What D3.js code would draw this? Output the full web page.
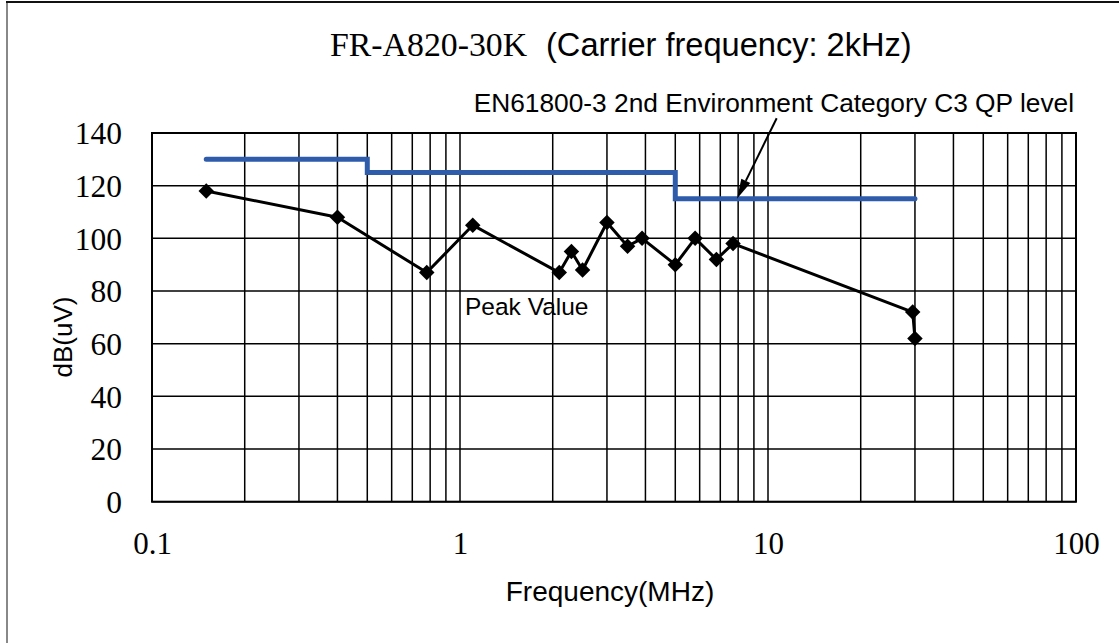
<!DOCTYPE html>
<html>
<head>
<meta charset="utf-8">
<script src="https://cdn.jsdelivr.net/npm/d3@7"></script>
<style>
  html, body { margin: 0; padding: 0; background: #fff; }
  svg { display: block; }
</style>
</head>
<body>
<script>
// ---- data ----
const peakFreq = [0.15, 0.4, 0.78, 1.1, 2.1, 2.3, 2.5, 3.0, 3.5, 3.9, 5.0, 5.8, 6.8, 7.7, 29.5, 30];
const peakLevel = [118, 108, 87, 105, 87, 95, 88, 106, 97, 100, 90, 100, 92, 98, 72, 62];
const limitFreq = [0.15, 0.5, 0.5, 5, 5, 30];
const limitLevel = [130, 130, 125, 125, 115, 115];
const xTickValues = [0.1, 1, 10, 100];
const xTickLabels = ["0.1", "1", "10", "100"];
const yTickValues = [0, 20, 40, 60, 80, 100, 120, 140];
const titleMain = "FR-A820-30K";
const titleSub = "(Carrier frequency: 2kHz)";
const limitLabel = "EN61800-3 2nd Environment Category C3 QP level";
const peakLabel = "Peak Value";
const xTitle = "Frequency(MHz)";
const yTitle = "dB(uV)";

// ---- layout ----
const W = 1119, H = 643;
const L = 152, R = 1076, T = 133, B = 501.7;

const svg = d3.select("body").append("svg").attr("width", W).attr("height", H);

// outer frame (left + top)
svg.append("line").attr("x1", 7).attr("x2", 7).attr("y1", 2).attr("y2", H)
  .attr("stroke", "#888").attr("stroke-width", 2);
svg.append("line").attr("x1", 6).attr("x2", W).attr("y1", 2).attr("y2", 2)
  .attr("stroke", "#111").attr("stroke-width", 2);

const x = d3.scaleLog().domain([0.1, 100]).range([L, R]);
const y = d3.scaleLinear().domain([0, 140]).range([B, T]);

// grid: vertical at every 1..9 x decade
const vGrid = [];
[0.1, 1, 10].forEach(dec => { for (let k = 1; k <= 9; k++) vGrid.push(dec * k); });
vGrid.push(100);
svg.append("g").selectAll("line").data(vGrid).join("line")
  .attr("x1", d => x(d)).attr("x2", d => x(d))
  .attr("y1", T).attr("y2", B)
  .attr("stroke", "#000").attr("stroke-width", 1.5);
svg.append("g").selectAll("line").data(yTickValues).join("line")
  .attr("x1", L).attr("x2", R)
  .attr("y1", d => y(d)).attr("y2", d => y(d))
  .attr("stroke", "#000").attr("stroke-width", 1.5);
svg.append("rect").attr("x", L).attr("y", T).attr("width", R - L).attr("height", B - T)
  .attr("fill", "none").attr("stroke", "#000").attr("stroke-width", 2);

// axes (labels only)
const xAxis = d3.axisBottom(x).tickValues(xTickValues)
  .tickFormat((d, i) => xTickLabels[i]).tickSize(0).tickPadding(0);
const gx = svg.append("g").attr("transform", `translate(0,${B})`).call(xAxis);
gx.select(".domain").remove();
gx.selectAll("text").attr("font-family", "'Liberation Serif', 'Times New Roman', serif")
  .attr("font-size", 31).attr("fill", "#000").attr("y", 52).attr("dy", 0);

const yAxis = d3.axisLeft(y).tickValues(yTickValues).tickSize(0).tickPadding(0);
const gy = svg.append("g").attr("transform", `translate(${L},0)`).call(yAxis);
gy.select(".domain").remove();
gy.selectAll("text").attr("font-family", "'Liberation Serif', 'Times New Roman', serif")
  .attr("font-size", 31.5).attr("fill", "#000").attr("x", -30).attr("dy", "0.34em");

// axis titles
svg.append("text").attr("x", 610).attr("y", 601).attr("text-anchor", "middle")
  .attr("font-family", "'Liberation Sans', Arial, sans-serif").attr("font-size", 28)
  .text(xTitle);
svg.append("text").attr("transform", "translate(72,337) rotate(-90)").attr("text-anchor", "middle")
  .attr("font-family", "'Liberation Sans', Arial, sans-serif").attr("font-size", 26)
  .text(yTitle);

// title
svg.append("text").attr("x", 330).attr("y", 56)
  .attr("font-family", "'Liberation Serif', 'Times New Roman', serif").attr("font-size", 33.8)
  .text(titleMain);
svg.append("text").attr("x", 546).attr("y", 56)
  .attr("font-family", "'Liberation Sans', Arial, sans-serif").attr("font-size", 32.6)
  .text(titleSub);

// limit line
const limitData = limitFreq.map((f, i) => [f, limitLevel[i]]);
svg.append("path").datum(limitData)
  .attr("d", d3.line().x(d => x(d[0])).y(d => y(d[1])))
  .attr("fill", "none").attr("stroke", "#2E5BAA").attr("stroke-width", 5)
  .attr("stroke-linecap", "round").attr("stroke-linejoin", "miter");

// peak line
const peakData = peakFreq.map((f, i) => [f, peakLevel[i]]);
svg.append("path").datum(peakData)
  .attr("d", d3.line().x(d => x(d[0])).y(d => y(d[1])))
  .attr("fill", "none").attr("stroke", "#000").attr("stroke-width", 3)
  .attr("stroke-linejoin", "round");
svg.append("g").selectAll("path").data(peakData).join("path")
  .attr("d", d3.symbol().type(d3.symbolSquare).size(120))
  .attr("transform", d => `translate(${x(d[0])},${y(d[1])}) rotate(45)`)
  .attr("fill", "#000");

// labels
svg.append("text").attr("x", 465).attr("y", 315)
  .attr("font-family", "'Liberation Sans', Arial, sans-serif").attr("font-size", 24.5)
  .text(peakLabel);
svg.append("text").attr("x", 1074).attr("y", 112).attr("text-anchor", "end")
  .attr("font-family", "'Liberation Sans', Arial, sans-serif").attr("font-size", 26.3)
  .text(limitLabel);

// arrow from label to limit line
const arrowFrom = [10.67, 145.6], arrowTo = [7.93, 115];
const x1 = x(arrowFrom[0]), y1 = y(arrowFrom[1]), x2 = x(arrowTo[0]), y2 = y(arrowTo[1]);
const ang = Math.atan2(y2 - y1, x2 - x1);
const headLen = 20, headW = 5;
const bx = x2 - headLen * Math.cos(ang), by = y2 - headLen * Math.sin(ang);
svg.append("line").attr("x1", x1).attr("y1", y1).attr("x2", bx).attr("y2", by)
  .attr("stroke", "#000").attr("stroke-width", 2);
svg.append("path")
  .attr("d", `M${x2},${y2}L${bx + headW * Math.sin(ang)},${by - headW * Math.cos(ang)}L${bx - headW * Math.sin(ang)},${by + headW * Math.cos(ang)}Z`)
  .attr("fill", "#000");
</script>
</body>
</html>
